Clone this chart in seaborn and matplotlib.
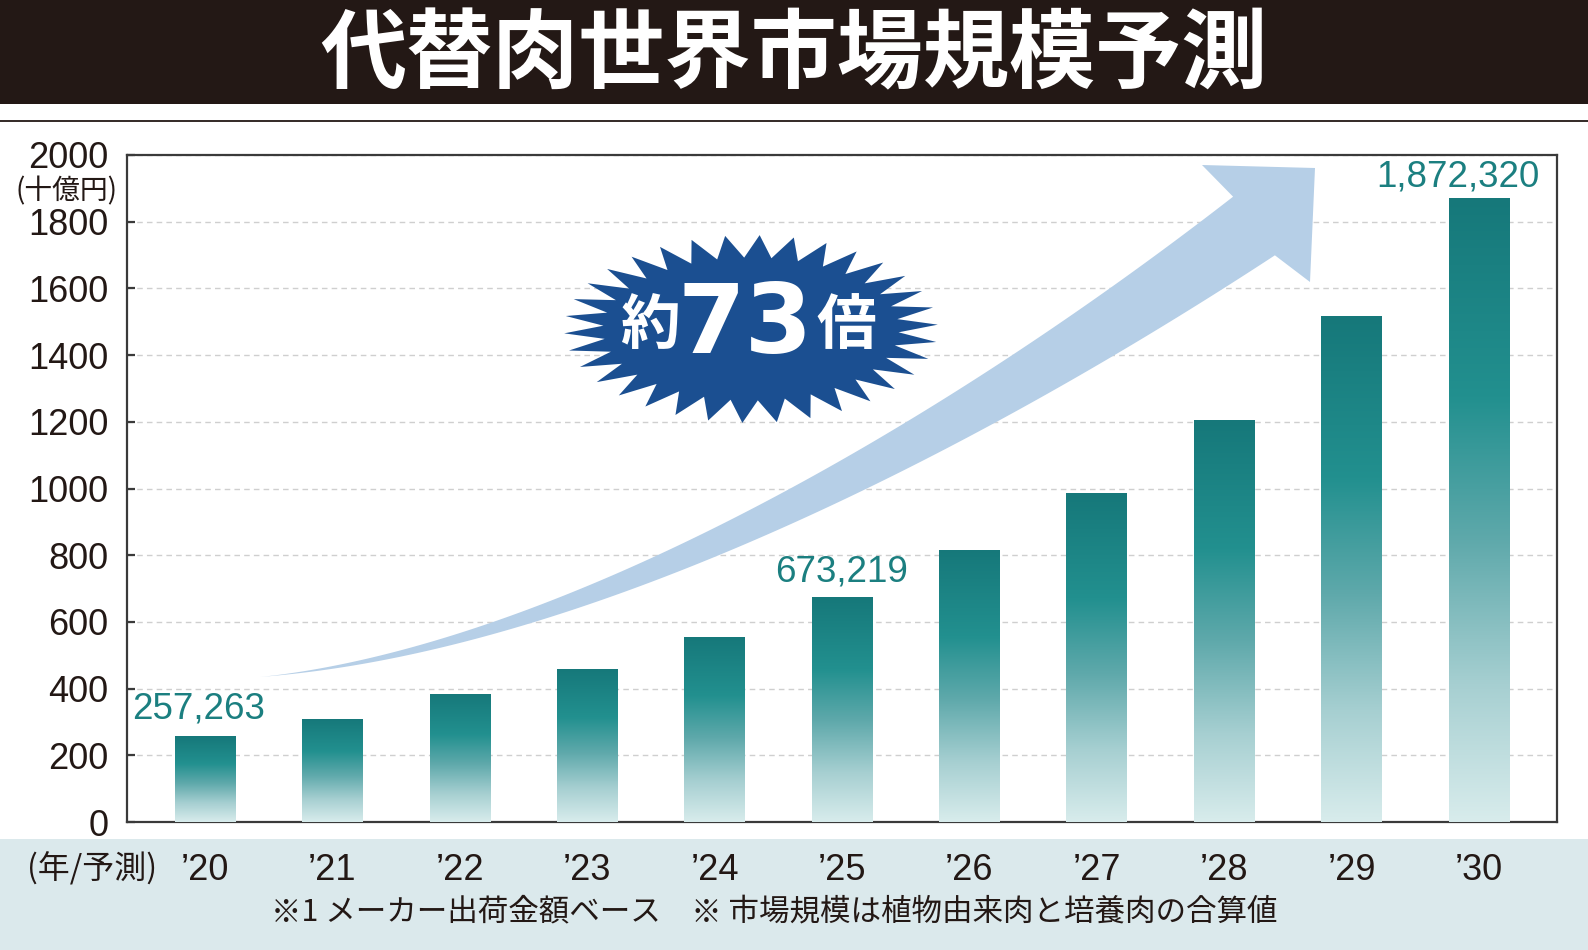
import numpy as np
import pandas as pd
import matplotlib
matplotlib.use("Agg")
import matplotlib.pyplot as plt
import seaborn as sns
from matplotlib.patches import Polygon, Rectangle
from matplotlib.lines import Line2D
from matplotlib.colors import LinearSegmentedColormap

# ---------------- data ----------------
years = ["’20", "’21", "’22", "’23", "’24", "’25", "’26", "’27", "’28", "’29", "’30"]
values = [257.263, 309, 384, 460, 555, 673.219, 816, 986, 1205, 1517, 1872.320]
value_labels = {0: "257,263", 5: "673,219", 10: "1,872,320"}
y_ticks = list(range(0, 2001, 200))
title = "代替肉世界市場規模予測"
unit_label = "(十億円)"
x_label = "(年/予測)"
footnote = "※1 メーカー出荷金額ベース　※ 市場規模は植物由来肉と培養肉の合算値"
badge_parts = ["約", "73", "倍"]

# ---------------- style ----------------
sns.set_style("white")
CJK = ["Noto Sans CJK JP", "DejaVu Sans"]
plt.rcParams["font.family"] = ["Liberation Sans", "Noto Sans CJK JP", "DejaVu Sans"]

W, H = 1588, 950
def fx(x):
    return x / W
def fy(y):
    return 1 - y / H

fig = plt.figure(figsize=(W / 100, H / 100), dpi=100, facecolor="white")

# top title band, rule, bottom band
fig.add_artist(Rectangle((0, fy(104)), 1, 104 / H, transform=fig.transFigure,
                         facecolor="#231815", edgecolor="none", zorder=-5))
fig.add_artist(Line2D([0, 1], [fy(121), fy(121)], transform=fig.transFigure,
                      color="#231815", lw=1.3, zorder=-5))
fig.add_artist(Rectangle((0, 0), 1, (H - 839) / H, transform=fig.transFigure,
                         facecolor="#dbe9ec", edgecolor="none", zorder=-5))

fig.text(0.5, fy(56), title, fontsize=62, color="white", weight="bold",
         family=CJK, ha="center", va="center")

ax = fig.add_axes([fx(126.7), fy(822), (1556.7 - 126.7) / W, (822 - 155) / H])
ax.set_facecolor("white")

df = pd.DataFrame({"year": years, "value": values})
sns.barplot(data=df, x="year", y="value", ax=ax, width=0.476, color="#1a8585",
            saturation=1, zorder=3)

cmap = LinearSegmentedColormap.from_list(
    "bar", [(0, "#d8ecec"), (0.22, "#a6cfd1"), (0.45, "#5fa9ab"),
            (0.68, "#22908f"), (1, "#16787a")])
grad = np.linspace(0, 1, 256).reshape(-1, 1)
for b in list(ax.patches):
    x0, w, h = b.get_x(), b.get_width(), b.get_height()
    im = ax.imshow(grad, extent=[x0, x0 + w, 0, h], origin="lower", cmap=cmap,
                   aspect="auto", zorder=3, interpolation="bicubic")
    im.set_clip_path(b)
    b.set_facecolor("none")
    b.set_edgecolor("none")

ax.set_xlim(-0.615, 10.61)
ax.set_ylim(0, 2000)
ax.set_yticks(y_ticks)
ax.set_yticklabels([str(v) for v in y_ticks])
ax.yaxis.grid(True, linestyle=(0, (4, 3)), color="#cfcfcf", linewidth=1.0)
ax.xaxis.grid(False)
ax.set_axisbelow(True)
for s in ax.spines.values():
    s.set_visible(True)
    s.set_color("#3a3a3a")
    s.set_linewidth(1.6)
ax.tick_params(axis="y", direction="in", length=6, width=1.6, color="#3a3a3a",
               pad=13, labelsize=26, labelcolor="#231815", left=True)
ax.tick_params(axis="x", length=0, pad=22, labelsize=26, labelcolor="#231815")
ax.set_xlabel("")
ax.set_ylabel("")

label_offsets = {0: (-6, 27), 5: (0, 25), 10: (-21, 21)}
for i, lab in value_labels.items():
    dx, dy = label_offsets[i]
    ax.annotate(lab, (i, values[i]), xytext=(dx, dy), textcoords="offset pixels",
                ha="center", va="center", fontsize=26.5, color="#1b7f80", zorder=5)

# unit and axis labels
fig.text(fx(67), fy(191), unit_label, fontsize=20, family=CJK, color="#231815",
         ha="center", va="center")
fig.text(fx(92), fy(869), x_label, fontsize=23, family=CJK, color="#231815",
         ha="center", va="center")
fig.text(fx(271), fy(912), footnote, fontsize=22, family=CJK, color="#231815",
         ha="left", va="center")

# ---------------- decorative growth arrow (pixel space) ----------------
P0, C1, C2, P3 = map(np.array, [(260, 677), (560, 650), (940, 450), (1254, 226)])
t = np.linspace(0, 1, 200)[:, None]
B = (1 - t) ** 3 * P0 + 3 * t * (1 - t) ** 2 * C1 + 3 * t ** 2 * (1 - t) * C2 + t ** 3 * P3
dB = 3 * (1 - t) ** 2 * (C1 - P0) + 6 * t * (1 - t) * (C2 - C1) + 3 * t ** 2 * (P3 - C2)
d = dB / np.linalg.norm(dB, axis=1, keepdims=True)
n = np.column_stack([d[:, 1], -d[:, 0]])
wdt = 72 * t ** 1.3
upper = B + n * wdt / 2
lower = B - n * wdt / 2
head = np.array([(1202, 165), (1315, 168), (1310, 282)])
pts = np.vstack([upper, head, lower[::-1]])
fig.add_artist(Polygon(np.column_stack([pts[:, 0] / W, 1 - pts[:, 1] / H]),
                       closed=True, transform=fig.transFigure,
                       facecolor="#b6cfe7", edgecolor="none", zorder=2))

# ---------------- starburst badge ----------------
cx, cy, rx, ry = 751, 329, 187, 94
N = 34
ang = np.linspace(0, 2 * np.pi, 2 * N, endpoint=False) + np.pi / (2 * N)
sx = np.where(np.arange(2 * N) % 2 == 0, rx, rx * 0.79)
sy = np.where(np.arange(2 * N) % 2 == 0, ry, ry * 0.76)
bx = cx + sx * np.cos(ang)
by = cy - sy * np.sin(ang)
fig.add_artist(Polygon(np.column_stack([bx / W, 1 - by / H]), closed=True,
                       transform=fig.transFigure, facecolor="#1b4f91",
                       edgecolor="none", zorder=3))
fig.text(fx(650), fy(327), badge_parts[0], fontsize=43, weight="bold", color="white",
         family=CJK, ha="center", va="center", zorder=4)
fig.text(fx(745), fy(327), badge_parts[1], fontsize=70, weight="bold", color="white",
         family=["DejaVu Sans"], ha="center", va="center", zorder=4)
fig.text(fx(846), fy(327), badge_parts[2], fontsize=43, weight="bold", color="white",
         family=CJK, ha="center", va="center", zorder=4)

fig.savefig("out.png", dpi=100, facecolor="white")
